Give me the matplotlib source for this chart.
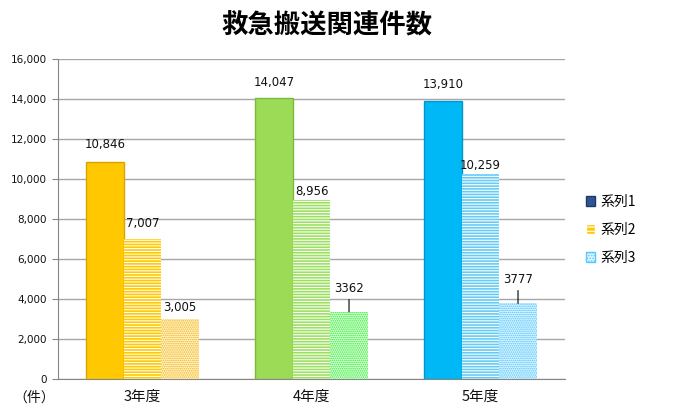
import matplotlib
matplotlib.use("Agg")
import matplotlib.pyplot as plt
from matplotlib.patches import Patch
import numpy as np

plt.rcParams['font.family'] = ['Noto Sans CJK JP', 'DejaVu Sans']
plt.rcParams['hatch.linewidth'] = 0.8

# ---- data ----
categories = ['3年度', '4年度', '5年度']
series_names = ['系列1', '系列2', '系列3']
s1 = [10846, 14047, 13910]
s2 = [7007, 8956, 10259]
s3 = [3005, 3362, 3777]
s1_labels = ['10,846', '14,047', '13,910']
s2_labels = ['7,007', '8,956', '10,259']
s3_labels = ['3,005', '3362', '3777']
yticks = [0, 2000, 4000, 6000, 8000, 10000, 12000, 14000, 16000]

# ---- styles ----
solid_colors = ['#FFC800', '#9BDB55', '#00B8F5']
solid_edges = ['#D9A300', '#7DB83C', '#0095CC']
stripe_colors = ['#FFC800', '#9BE060', '#66CCF5']
dot_colors = ['#F5B000', '#22EE22', '#44C0FF']
dot_faces = ['#FFF8E0', '#E8FFE8', '#E8F8FF']
s1_off = [13, 11.5, 11.5]
s2_off = [11, 6, 6]
s3_off = [8.5, 16.5, 17]
num_font = 'DejaVu Sans'

fig = plt.figure(figsize=(6.95, 4.11), dpi=100)
ax = fig.add_axes([58/695, 1-379/411, (565-58)/695, (379-59)/411])

x = np.arange(len(categories))
w = 0.222

b1 = ax.bar(x - w, s1, w, color=solid_colors, edgecolor=solid_edges, linewidth=1.0, zorder=3)
b2 = ax.bar(x, s2, w, color=stripe_colors, edgecolor='white', hatch='------', linewidth=0, zorder=3)
b3 = ax.bar(x + w, s3, w, color=dot_faces, edgecolor=dot_colors, hatch='........', linewidth=0, zorder=3)

lab_kw = dict(textcoords='offset points', ha='center', va='center', fontsize=8.5,
              color='#111111', family=num_font)
for i in range(len(categories)):
    ax.annotate(s1_labels[i], (x[i] - w, s1[i]), xytext=(0, s1_off[i]), **lab_kw)
    ax.annotate(s2_labels[i], (x[i], s2[i]), xytext=(0, s2_off[i]), **lab_kw)
    if i == 0:
        ax.annotate(s3_labels[i], (x[i] + w, s3[i]), xytext=(0, s3_off[i]), **lab_kw)
    else:
        ax.annotate(s3_labels[i], (x[i] + w, s3[i]), xytext=(0, s3_off[i]),
                    arrowprops=dict(arrowstyle='-', color='black', lw=0.8, shrinkA=1, shrinkB=0),
                    **lab_kw)

ax.set_xlim(-0.5, 2.5)
ax.set_ylim(0, 16000)
ax.set_yticks(yticks)
ax.set_yticklabels([f'{v:,}' for v in yticks], fontsize=7.5, color='#111111', family=num_font)
ax.set_xticks(x)
ax.set_xticklabels(categories, fontsize=10.5, color='#111111')
ax.tick_params(axis='x', length=0, pad=8)
ax.tick_params(axis='y', length=4, direction='out', color='#868686', pad=4)
ax.grid(axis='y', color='#A6A6A6', linewidth=1.0, zorder=0)
ax.set_axisbelow(True)
for sp in ['top', 'right']:
    ax.spines[sp].set_visible(False)
ax.spines['left'].set_color('#868686')
ax.spines['bottom'].set_color('#868686')

fig.text(34/695, 1-398/411, '（件）', ha='center', va='center', fontsize=10, color='#111111')
fig.text(327/695, 1-26/411, '救急搬送関連件数', ha='center', va='center', fontsize=19, fontweight='bold')

handles = [
    Patch(facecolor='#2F5597', edgecolor='#1F3864'),
    Patch(facecolor='#FFC800', edgecolor='white', hatch='----'),
    Patch(facecolor='#E8F6FF', edgecolor='#55C8FF', hatch='......'),
]
fig.legend(handles, series_names, loc='center left', bbox_to_anchor=(573/695, 1-230/411),
           frameon=False, fontsize=10, handlelength=0.7, handleheight=0.7,
           handletextpad=0.4, labelspacing=1.0)

fig.savefig('out.png', dpi=100)
